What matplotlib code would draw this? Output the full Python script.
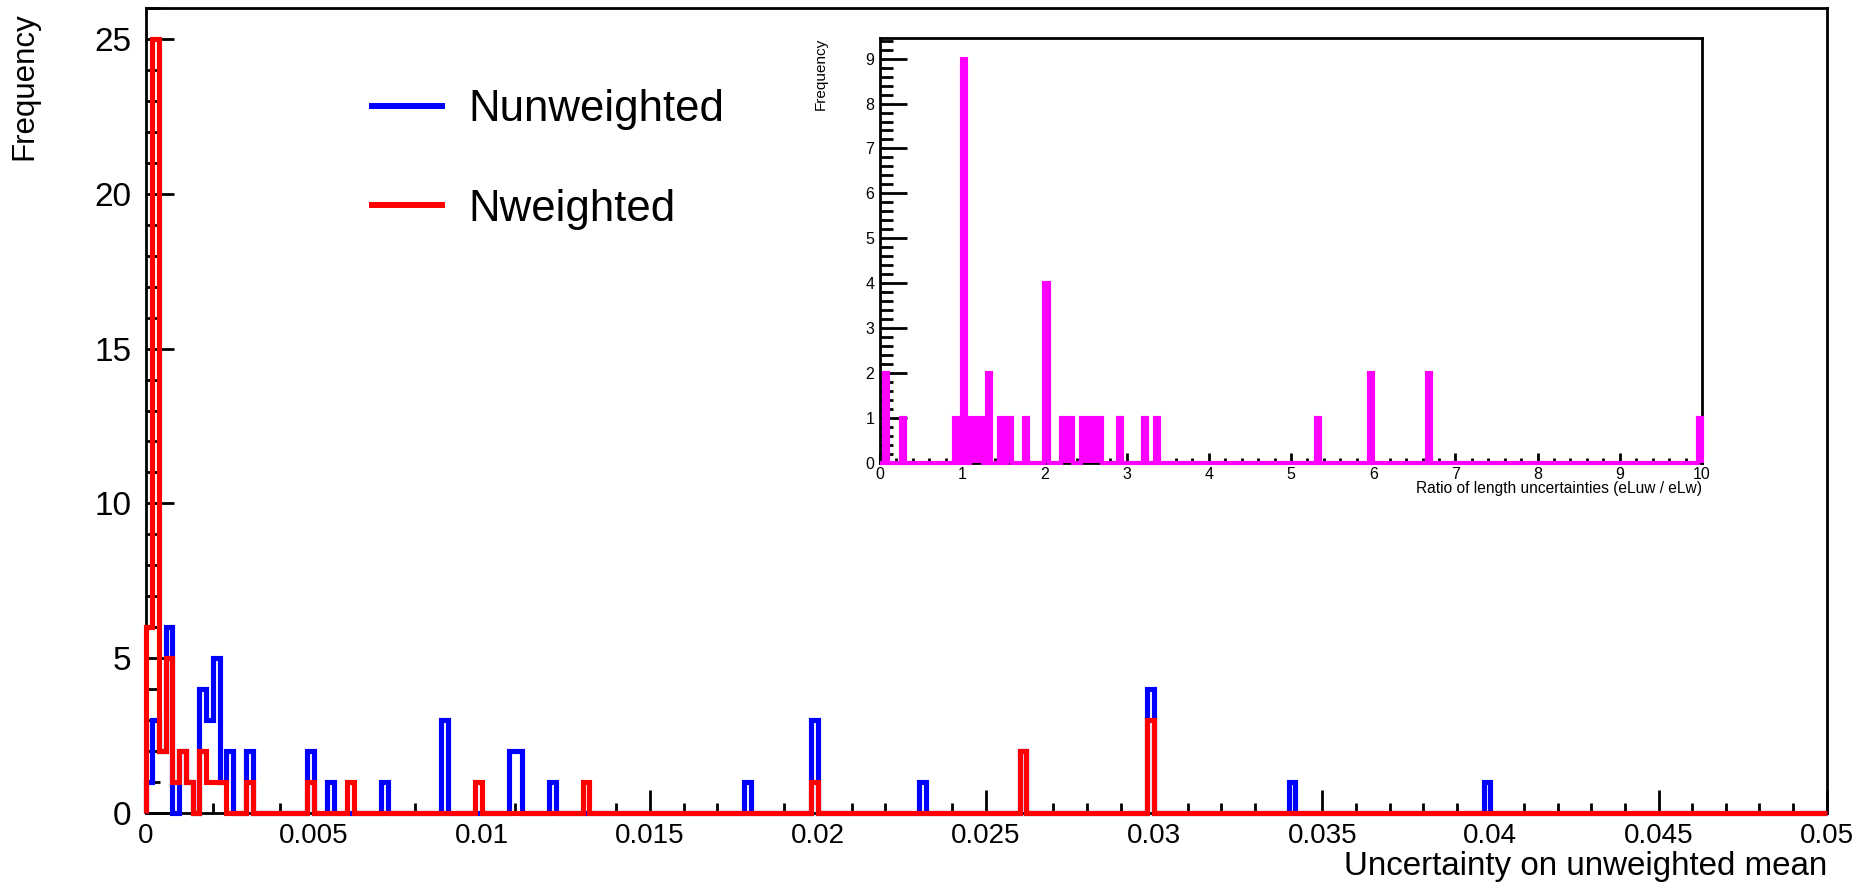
import numpy as np
import matplotlib
matplotlib.use("Agg")
import matplotlib.pyplot as plt
from matplotlib.ticker import FixedLocator, MultipleLocator
from matplotlib.lines import Line2D

plt.rcParams['font.family'] = ['Liberation Sans', 'DejaVu Sans']

# ---------------- data ----------------
# main histogram: 250 bins from 0 to 0.05 (bin width 0.0002)
main_nbins = 250
main_range = (0.0, 0.05)
unweighted_bin_index = [0, 1, 2, 3, 5, 6, 8, 9, 10, 11, 12, 15, 24, 27, 35, 44, 54, 55, 60, 89, 99, 115, 130, 149, 170, 199]
unweighted_counts    = [1, 3, 2, 6, 2, 1, 4, 3, 5, 1, 2, 2, 2, 1, 1, 3, 2, 2, 1, 1, 3, 1, 2, 4, 1, 1]
weighted_bin_index = [0, 1, 2, 3, 4, 5, 6, 8, 9, 10, 11, 15, 24, 30, 49, 65, 99, 130, 149]
weighted_counts    = [6, 25, 2, 5, 1, 2, 1, 2, 1, 1, 1, 1, 1, 1, 1, 1, 1, 2, 3]

x_tick_values = [0, 0.005, 0.01, 0.015, 0.02, 0.025, 0.03, 0.035, 0.04, 0.045, 0.05]
x_tick_labels = ["0", "0.005", "0.01", "0.015", "0.02", "0.025", "0.03", "0.035", "0.04", "0.045", "0.05"]
y_tick_values = [0, 5, 10, 15, 20, 25]
y_tick_labels = ["0", "5", "10", "15", "20", "25"]

legend_labels = ["Nunweighted", "Nweighted"]

# inset histogram: 200 bins from 0 to 10 (bin width 0.05)
ratio_nbins = 200
ratio_range = (0.0, 10.0)
ratio_bin_index = [1, 5, 18, 20, 22, 23, 24, 26, 29, 31, 35, 40, 44, 45, 46, 49, 50, 51, 52, 53, 58, 64, 67, 106, 119, 133, 199]
ratio_counts    = [2, 1, 1, 9, 1, 1, 1, 2, 1, 1, 1, 4, 1, 1, 1, 1, 1, 1, 1, 1, 1, 1, 1, 1, 2, 2, 1]
inset_x_ticks = list(range(0, 11))
inset_y_ticks = list(range(0, 10))

# ---------------- build histograms ----------------
main_edges = np.linspace(main_range[0], main_range[1], main_nbins + 1)
h_unw = np.zeros(main_nbins)
h_unw[unweighted_bin_index] = unweighted_counts
h_w = np.zeros(main_nbins)
h_w[weighted_bin_index] = weighted_counts

ratio_edges = np.linspace(ratio_range[0], ratio_range[1], ratio_nbins + 1)
h_ratio = np.zeros(ratio_nbins)
h_ratio[ratio_bin_index] = ratio_counts

# ---------------- figure ----------------
W, H = 1872, 882
fig = plt.figure(figsize=(W / 100, H / 100), dpi=100)
fig.patch.set_facecolor("white")

L, R, B, T = 145.6, 1826.6, 812.8, 8.3
ax = fig.add_axes([L / W, 1 - B / H, (R - L) / W, (B - T) / H])
ax.set_xlim(*main_range)
ax.set_ylim(0, 26.0)

ax.stairs(h_unw, main_edges, color="#0000ff", linewidth=3.7, clip_on=False, zorder=3)
ax.stairs(h_w, main_edges, color="#ff0000", linewidth=3.7, clip_on=False, zorder=3.1)

ax.xaxis.set_major_locator(FixedLocator(x_tick_values))
ax.set_xticklabels(x_tick_labels)
ax.xaxis.set_minor_locator(MultipleLocator(0.001))
ax.yaxis.set_major_locator(FixedLocator(y_tick_values))
ax.set_yticklabels(y_tick_labels)
ax.yaxis.set_minor_locator(MultipleLocator(1))

ax.tick_params(which="both", direction="in", top=False, right=False, width=2.0, color="black")
ax.tick_params(axis="x", which="major", length=16.5, pad=7, labelsize=20)
ax.tick_params(axis="x", which="minor", length=7.5)
ax.tick_params(axis="y", which="major", length=20, pad=10, labelsize=24)
ax.tick_params(axis="y", which="minor", length=10)
for s in ax.spines.values():
    s.set_linewidth(2.0)
    s.set_zorder(2.5)

fig.text(24 / W, 1 - 12 / H, "Frequency", rotation=90, ha="center", va="top", fontsize=22.5)
fig.text(1827 / W, (H - 875) / H, "Uncertainty on unweighted mean", ha="right", va="baseline", fontsize=23.9)

handles = [Line2D([], [], color="#0000ff", linewidth=4.3),
           Line2D([], [], color="#ff0000", linewidth=4.3)]
ax.legend(handles, legend_labels, loc="upper left", bbox_to_anchor=(372 / W, 1 - 89 / H),
          bbox_transform=fig.transFigure, frameon=False, fontsize=31.5, handlelength=1.6,
          handletextpad=0.6, labelspacing=1.34, borderpad=0, borderaxespad=0)

# ---------------- inset ----------------
iL, iR, iB, iT = 880, 1702, 463.3, 38.3
axin = fig.add_axes([iL / W, 1 - iB / H, (iR - iL) / W, (iB - iT) / H])
axin.set_facecolor("white")
axin.set_xlim(*ratio_range)
axin.set_ylim(0, 9.45)
axin.stairs(h_ratio, ratio_edges, color="#ff00ff", fill=True, linewidth=3.0,
            edgecolor="#ff00ff", clip_on=False, zorder=3)

axin.xaxis.set_major_locator(FixedLocator(inset_x_ticks))
axin.xaxis.set_minor_locator(MultipleLocator(0.2))
axin.yaxis.set_major_locator(FixedLocator(inset_y_ticks))
axin.yaxis.set_minor_locator(MultipleLocator(0.2))
axin.tick_params(which="both", direction="in", top=False, right=False, width=2.0, color="black")
axin.tick_params(axis="x", which="major", length=7, pad=3, labelsize=11.5)
axin.tick_params(axis="x", which="minor", length=3.6)
axin.tick_params(axis="y", which="major", length=19.5, pad=4, labelsize=11.5)
axin.tick_params(axis="y", which="minor", length=9.5)
for s in axin.spines.values():
    s.set_linewidth(2.0)
    s.set_zorder(2.5)

fig.text(821 / W, 1 - 38 / H, "Frequency", rotation=90, ha="center", va="top", fontsize=11)
fig.text(iR / W, 1 - 488 / H, "Ratio of length uncertainties (eLuw / eLw)", ha="right", va="center", fontsize=11.2)

fig.savefig("out.png", dpi=100, facecolor="white")
